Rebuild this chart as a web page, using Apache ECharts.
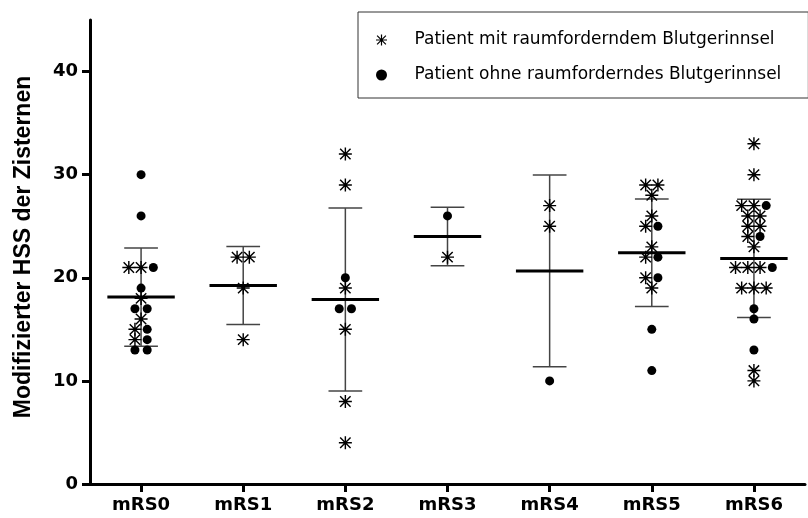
<!DOCTYPE html>
<html>
	<head>
		<meta charset="utf-8" />
		<title>Modifizierter HSS</title>
		<script src="https://cdn.jsdelivr.net/npm/echarts@6/dist/echarts.min.js"></script>
	</head>
	<body style="margin:0">
		<div id="main" style="width:808px;height:518px"></div>
		<script>
			var categories = ['mRS0', 'mRS1', 'mRS2', 'mRS3', 'mRS4', 'mRS5', 'mRS6'];
			// Patient mit raumforderndem Blutgerinnsel (Sterne)
			var mitGerinnsel = [
				[21, 21, 18, 16, 15, 14],
				[22, 22, 19, 14],
				[32, 29, 19, 15, 8, 4],
				[22],
				[27, 25],
				[29, 29, 28, 26, 25, 23, 22, 20, 19],
				[33, 30, 27, 27, 26, 26, 25, 25, 24, 23, 21, 21, 21, 19, 19, 19, 11, 10]
			];
			// Patient ohne raumforderndes Blutgerinnsel (Punkte)
			var ohneGerinnsel = [
				[30, 26, 21, 19, 17, 17, 15, 14, 13, 13],
				[],
				[20, 17, 17],
				[26],
				[10],
				[25, 22, 20, 15, 11],
				[27, 24, 21, 17, 16, 13]
			];
			var yTicks = [0, 10, 20, 30, 40];
			var nameMit = 'Patient mit raumforderndem Blutgerinnsel';
			var nameOhne = 'Patient ohne raumforderndes Blutgerinnsel';

			var starPath = 'path://M8.9 0L11.1 0L11.1 20L8.9 20Z' +
				'M0 8.9L20 8.9L20 11.1L0 11.1Z' +
				'M1.222 2.778L2.778 1.222L18.778 17.222L17.222 18.778Z' +
				'M17.222 1.222L18.778 2.778L2.778 18.778L1.222 17.222Z';

			// punkte mit gleichem wert nebeneinander legen
			var starData = [];
			var dotData = [];
			var stats = [];
			for (var i = 0; i < categories.length; i++) {
				var items = [];
				mitGerinnsel[i].forEach(function(v) { items.push({ v: v, k: 's' }); });
				ohneGerinnsel[i].forEach(function(v) { items.push({ v: v, k: 'd' }); });
				var count = {}, seen = {};
				items.forEach(function(it) { count[it.v] = (count[it.v] || 0) + 1; });
				items.forEach(function(it) {
					var n = count[it.v];
					var k = seen[it.v] || 0;
					seen[it.v] = k + 1;
					var off = (k - (n - 1) / 2) * 0.12;
					(it.k === 's' ? starData : dotData).push([i + off, it.v]);
				});
				// Mittelwert +/- SD
				var sum = 0;
				items.forEach(function(it) { sum += it.v; });
				var mean = sum / items.length;
				var sq = 0;
				items.forEach(function(it) { sq += (it.v - mean) * (it.v - mean); });
				var sd = Math.sqrt(sq / (items.length - 1));
				stats.push([i, mean, mean - sd, mean + sd]);
			}

			var font = 'Liberation Sans, Arial, sans-serif';

			var option = {
				animation: false,
				grid: { left: 90, right: 3, top: 20, bottom: 34 },
				legend: {
					orient: 'vertical',
					left: 358,
					top: 12,
					padding: [18, 27, 13, 18],
					borderColor: '#333',
					borderWidth: 1,
					itemWidth: 14,
					itemHeight: 11,
					itemGap: 15,
					textStyle: {
						fontFamily: 'DejaVu Sans, sans-serif',
						fontSize: 17,
						color: '#000',
						lineHeight: 20,
						padding: [0, 0, 0, 21]
					},
					data: [
						{ name: nameMit, icon: starPath },
						{ name: nameOhne, icon: 'circle' }
					]
				},
				xAxis: [{
					type: 'category',
					data: categories,
					boundaryGap: true,
					axisLine: { lineStyle: { color: '#000', width: 3 } },
					axisTick: { show: true, alignWithLabel: true, length: 8, lineStyle: { color: '#000', width: 3 } },
					axisLabel: {
						margin: 12,
						color: '#000',
						fontFamily: 'DejaVu Sans, sans-serif',
						fontWeight: 'bold',
						fontSize: 18
					}
				}, {
					type: 'value',
					min: -0.5,
					max: 6.5,
					show: false
				}],
				yAxis: {
					type: 'value',
					min: 0,
					max: 45,
					name: 'Modifizierter HSS der Zisternen',
					nameLocation: 'middle',
					nameGap: 55,
					nameTextStyle: {
						color: '#000',
						fontFamily: font,
						fontWeight: 'bold',
						fontSize: 23,
						padding: [0, 0, 0, 10]
					},
					splitLine: { show: false },
					axisLine: { show: true, onZero: false, lineStyle: { color: '#000', width: 3 } },
					axisTick: { show: true, length: 8, customValues: yTicks, lineStyle: { color: '#000', width: 3 } },
					axisLabel: {
						margin: 12,
						customValues: yTicks,
						color: '#000',
						fontFamily: 'DejaVu Sans, sans-serif',
						fontWeight: 'bold',
						fontSize: 18
					}
				},
				series: [{
					type: 'custom',
					xAxisIndex: 1,
					z: 1,
					silent: true,
					data: stats,
					renderItem: function(params, api) {
						var x = api.value(0);
						var pm = api.coord([x, api.value(1)]);
						var pl = api.coord([x, api.value(2)]);
						var ph = api.coord([x, api.value(3)]);
						var unit = api.size([1, 0])[0];
						var cap = unit * 0.165;
						var half = unit * 0.33;
						var thin = { stroke: '#444', lineWidth: 1.5 };
						return {
							type: 'group',
							children: [
								{ type: 'line', shape: { x1: pl[0], y1: pl[1], x2: ph[0], y2: ph[1] }, style: thin },
								{ type: 'line', shape: { x1: ph[0] - cap, y1: ph[1], x2: ph[0] + cap, y2: ph[1] }, style: thin },
								{ type: 'line', shape: { x1: pl[0] - cap, y1: pl[1], x2: pl[0] + cap, y2: pl[1] }, style: thin },
								{ type: 'line', shape: { x1: pm[0] - half, y1: pm[1], x2: pm[0] + half, y2: pm[1] }, style: { stroke: '#000', lineWidth: 3 } }
							]
						};
					}
				}, {
					name: nameMit,
					type: 'scatter',
					xAxisIndex: 1,
					z: 3,
					symbol: starPath,
					symbolSize: 13,
					itemStyle: { color: '#000', opacity: 1 },
					data: starData
				}, {
					name: nameOhne,
					type: 'scatter',
					xAxisIndex: 1,
					z: 3,
					symbol: 'circle',
					symbolSize: 9,
					itemStyle: { color: '#000', opacity: 1 },
					data: dotData
				}]
			};

			var chart = echarts.init(document.getElementById('main'));
			chart.setOption(option);
		</script>
	</body>
</html>
